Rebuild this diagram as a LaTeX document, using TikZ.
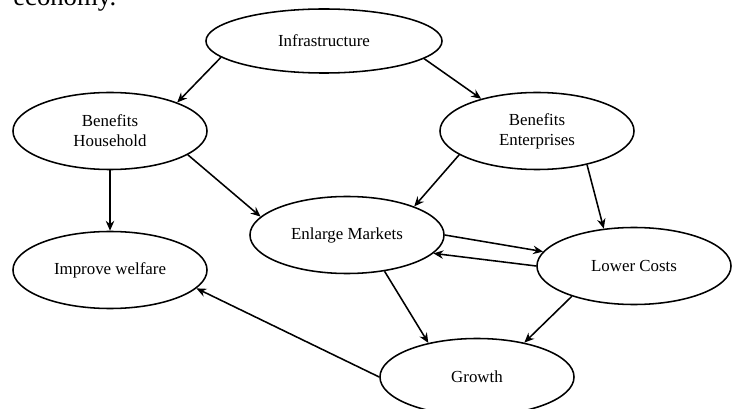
\documentclass[tikz,border=0pt]{standalone}
\usepackage{fontspec}
\setmainfont{Liberation Serif}
\usetikzlibrary{arrows.meta,shapes.geometric}

\begin{document}
\begin{tikzpicture}
		[x=0.025cm,y=0.025cm,>={Stealth[length=7pt,width=6pt]},
		main node/.style={ellipse,draw,line width=1.1pt,inner sep=0pt,
			minimum width=4.85cm,minimum height=1.925cm,align=center,
			font=\fontsize{12}{14.2}\selectfont},
		link/.style={->,line width=1.1pt}]
		\clip (0,0) rectangle (739,409);
		\useasboundingbox (0,0) rectangle (739,409);
		
		% tail of the paragraph above
		\node[anchor=base west,inner sep=0pt,font=\fontsize{19}{22}\selectfont] (econ) at (13,403) {economy.};
		
		\node[main node,minimum width=5.9cm,minimum height=1.6cm] (infra) at (324,368) {Infrastructure};
		\node[main node] (hh) at (110,278) {Benefits\\Household};
		\node[main node] (ent) at (537,278) {Benefits\\Enterprises};
		\node[main node] (mkt) at (347,174) {Enlarge Markets};
		\node[main node] (cost) at (634,143) {Lower Costs};
		\node[main node] (welf) at (110,139) {Improve welfare};
		\node[main node] (grow) at (477,32) {Growth};
		
		\draw[link] (infra.189) to (hh.23);
		\draw[link] (infra.350) to (ent.150);
		\draw[link] (hh.270) to (welf.90);
		\draw[link] (hh.343) to (mkt.168);
		\draw[link] (ent.197) to (mkt.23);
		\draw[link] (ent.326) to (cost.129);
		\draw[link] (mkt.0) to (cost.171);
		\draw[link] (cost.180) to (mkt.348);
		\draw[link] (mkt.316) to (grow.145);
		\draw[link] (cost.206) to (grow.36);
		\draw[link] (grow.180) to (welf.348);
		\end{tikzpicture}
\end{document}
